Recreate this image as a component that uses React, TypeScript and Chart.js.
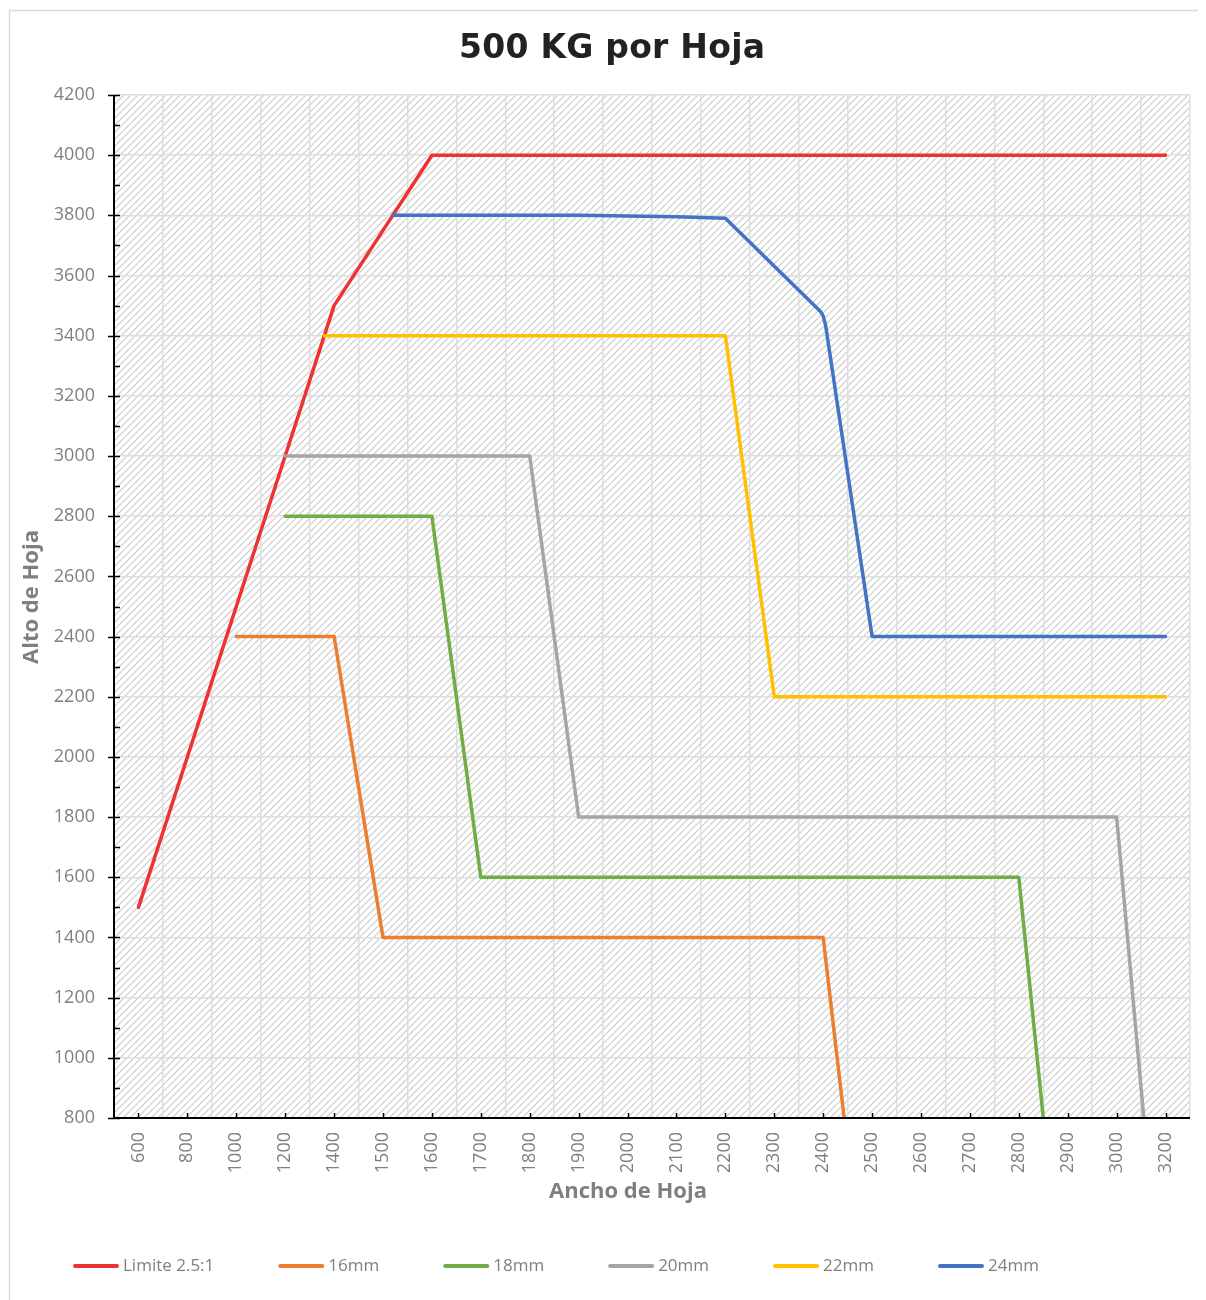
import React, { useEffect, useRef } from "react";
import { Chart, registerables } from "chart.js";
Chart.register(...registerables);

// X-axis categories (Ancho de Hoja) – evenly spaced category labels
const categories = [600, 800, 1000, 1200, 1400, 1500, 1600, 1700, 1800, 1900, 2000, 2100, 2200, 2300, 2400, 2500, 2600, 2700, 2800, 2900, 3000, 3200];

// Y axis range (Alto de Hoja)
const yMin = 800;
const yMax = 4200;
const yStep = 200;

const titleText = "500 KG por Hoja";
const xTitle = "Ancho de Hoja";
const yTitle = "Alto de Hoja";

const seriesNames = ["Limite 2.5:1", "16mm", "18mm", "20mm", "22mm", "24mm"];
const seriesColors = ["#EE3131", "#ED7D31", "#70AD47", "#A5A5A5", "#FFC000", "#4472C4"];

// Series: widths (mm) and heights (mm)
const limiteAncho = [600, 800, 1000, 1200, 1400, 1500, 1600, 3200];
const limiteAlto = [1500, 2000, 2500, 3000, 3500, 3750, 4000, 4000];

const mm16Ancho = [1000, 1400, 1500, 2400, 2500];
const mm16Alto = [2400, 2400, 1400, 1400, 0];

const mm18Ancho = [1200, 1600, 1700, 2800, 2900];
const mm18Alto = [2800, 2800, 1600, 1600, 0];

const mm20Ancho = [1200, 1800, 1900, 3000, 3200];
const mm20Alto = [3000, 3000, 1800, 1800, 0];

const mm22Ancho = [1360, 2200, 2300, 3200];
const mm22Alto = [3400, 3400, 2200, 2200];

const mm24Ancho = [1520, 1900, 2100, 2200, 2395, 2400, 2405, 2500, 3200];
const mm24Alto = [3800, 3800, 3795, 3790, 3480, 3465, 3435, 2400, 2400];

const seriesAncho = [limiteAncho, mm16Ancho, mm18Ancho, mm20Ancho, mm22Ancho, mm24Ancho];
const seriesAlto = [limiteAlto, mm16Alto, mm18Alto, mm20Alto, mm22Alto, mm24Alto];

// position of a width value on the category axis (categories are evenly spaced)
function widthToIndex(w: number): number {
  for (let i = 0; i < categories.length - 1; i++) {
    const a = categories[i];
    const b = categories[i + 1];
    if (w >= a && w <= b) return i + (w - a) / (b - a);
  }
  return w < categories[0] ? 0 : categories.length - 1;
}

const LABEL_FONT = '"Open Sans"';
const GRAY = "#7f7f7f";

function makeHatch(): CanvasPattern | string {
  const c = document.createElement("canvas");
  c.width = 7;
  c.height = 7;
  const g = c.getContext("2d");
  if (!g) return "#eee";
  g.fillStyle = "#ffffff";
  g.fillRect(0, 0, 7, 7);
  g.strokeStyle = "#c8c8c8";
  g.lineWidth = 1.1;
  g.beginPath();
  g.moveTo(-1, 8);
  g.lineTo(8, -1);
  g.stroke();
  g.beginPath();
  g.moveTo(-1, 1);
  g.lineTo(1, -1);
  g.stroke();
  g.beginPath();
  g.moveTo(6, 8);
  g.lineTo(8, 6);
  g.stroke();
  return g.createPattern(c, "repeat") || "#eee";
}

export default function App() {
  const ref = useRef<HTMLCanvasElement | null>(null);

  useEffect(() => {
    const canvas = ref.current;
    if (!canvas) return;
    const hatch = makeHatch();

    const datasets = seriesNames.map((name, i) => ({
      label: name,
      data: seriesAncho[i].map((w, k) => ({ x: widthToIndex(w), y: seriesAlto[i][k] })),
      borderColor: seriesColors[i],
      backgroundColor: seriesColors[i],
      borderWidth: 3.5,
      pointRadius: 0,
      tension: 0,
      fill: false,
      borderCapStyle: "round" as const,
      borderJoinStyle: "round" as const,
      order: seriesNames.length - i,
    }));

    const custom = {
      id: "custom",
      beforeDraw(chart: any) {
        const { ctx, chartArea: a, width, height } = chart;
        ctx.save();
        ctx.fillStyle = "#ffffff";
        ctx.fillRect(0, 0, width, height);
        ctx.strokeStyle = "#d9d9d9";
        ctx.lineWidth = 1.5;
        ctx.beginPath();
        ctx.moveTo(1.5, height);
        ctx.lineTo(1.5, 2.5);
        ctx.lineTo(width, 2.5);
        ctx.stroke();
        ctx.fillStyle = hatch;
        ctx.fillRect(a.left, a.top, a.right - a.left, a.bottom - a.top);
        ctx.restore();
      },
      afterDraw(chart: any) {
        const { ctx, chartArea: a } = chart;
        const xs = chart.scales.x;
        const ys = chart.scales.y;
        ctx.save();
        // axis lines
        ctx.strokeStyle = "#000000";
        ctx.lineWidth = 2;
        ctx.beginPath();
        ctx.moveTo(a.left, a.top);
        ctx.lineTo(a.left, a.bottom);
        ctx.lineTo(a.right, a.bottom);
        ctx.stroke();
        // y tick marks
        ctx.lineWidth = 1.5;
        for (let v = yMin; v <= yMax; v += yStep / 2) {
          const py = Math.round(ys.getPixelForValue(v)) + 0.5;
          const major = (v - yMin) % yStep === 0;
          ctx.beginPath();
          ctx.moveTo(major ? a.left - 6 : a.left, py);
          ctx.lineTo(a.left + 6, py);
          ctx.stroke();
        }
        // x tick marks
        for (let i = 0; i < categories.length; i++) {
          const px = Math.round(xs.getPixelForValue(i)) + 0.5;
          ctx.beginPath();
          ctx.moveTo(px, a.bottom);
          ctx.lineTo(px, a.bottom - 5);
          ctx.stroke();
        }
        // title
        ctx.fillStyle = "#222222";
        ctx.textAlign = "center";
        ctx.textBaseline = "middle";
        ctx.font = 'bold 33px "DejaVu Sans"';
        const w0 = ctx.measureText(titleText).width;
        const ls = Math.max(-1, Math.min(2, (306 - w0) / (titleText.length - 1)));
        (ctx as any).letterSpacing = ls.toFixed(2) + "px";
        ctx.fillText(titleText, 604 + ls / 2, 41);
        (ctx as any).letterSpacing = "0px";
        // axis titles
        ctx.fillStyle = GRAY;
        ctx.font = 'bold 22px "Open Sans"';
        ctx.fillText(xTitle, 620, 1184);
        ctx.save();
        ctx.translate(24, 589);
        ctx.rotate(-Math.PI / 2);
        ctx.fillText(yTitle, 0, 0);
        ctx.restore();
        // legend
        ctx.font = '17px "Open Sans"';
        ctx.textAlign = "left";
        let lx = 65;
        const ly = 1258;
        chart.data.datasets.forEach((ds: any) => {
          ctx.strokeStyle = ds.borderColor;
          ctx.lineWidth = 4;
          ctx.lineCap = "round";
          ctx.beginPath();
          ctx.moveTo(lx + 2, ly);
          ctx.lineTo(lx + 44, ly);
          ctx.stroke();
          ctx.fillStyle = GRAY;
          ctx.fillText(ds.label, lx + 50, ly);
          lx += 50 + ctx.measureText(ds.label).width + 64;
        });
        ctx.restore();
      },
    };

    const chart = new Chart(canvas, {
      type: "line",
      data: { datasets: datasets as any },
      options: {
        animation: false,
        responsive: false,
        devicePixelRatio: 1,
        layout: { padding: { top: 87, right: 16, left: 0, bottom: 0 } },
        plugins: { legend: { display: false }, title: { display: false }, tooltip: { enabled: false } },
        scales: {
          x: {
            type: "linear",
            min: -0.5,
            max: categories.length - 0.5,
            afterBuildTicks: (scale: any) => {
              scale.ticks = categories.map((_, i) => ({ value: i }));
            },
            afterFit: (scale: any) => {
              scale.height = 182;
            },
            ticks: {
              autoSkip: false,
              minRotation: 90,
              maxRotation: 90,
              padding: 14,
              color: GRAY,
              font: { family: LABEL_FONT, size: 18 },
              callback: (v: any) => String(categories[Math.round(Number(v))] ?? ""),
            },
            grid: { offset: true, color: "#dedede", lineWidth: 1.5, drawTicks: false },
            border: { display: false },
          },
          y: {
            type: "linear",
            min: yMin,
            max: yMax,
            afterFit: (scale: any) => {
              scale.width = 106;
            },
            ticks: {
              stepSize: yStep,
              padding: 19,
              color: GRAY,
              font: { family: LABEL_FONT, size: 18 },
              callback: (v: any) => String(v),
            },
            grid: { color: "#dedede", lineWidth: 1.5, drawTicks: false },
            border: { display: false },
          },
        },
      },
      plugins: [custom],
    });
    return () => chart.destroy();
  }, []);

  return (
    <div style={{ width: 1198, height: 1292 }}>
      <canvas ref={ref} width={1198} height={1292} style={{ display: "block" }} />
    </div>
  );
}
